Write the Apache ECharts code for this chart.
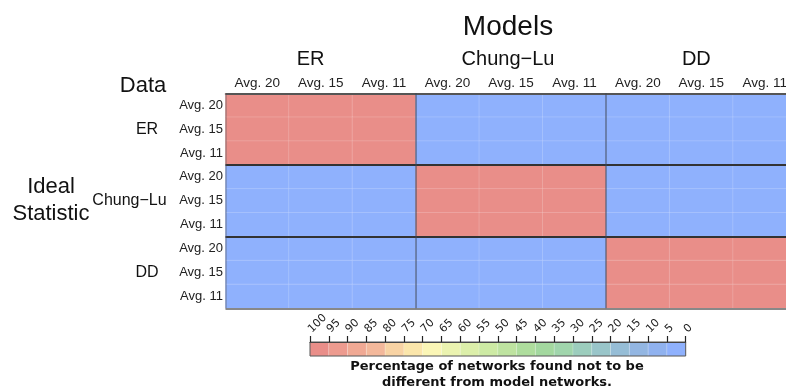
<!DOCTYPE html>
<html>
<head>
<meta charset="utf-8">
<script src="https://cdn.jsdelivr.net/npm/echarts@6/dist/echarts.min.js"></script>
<style>
  html, body { margin: 0; padding: 0; background: #ffffff; }
  #chart { width: 786px; height: 390px; }
</style>
</head>
<body>
<div id="chart"></div>
<script>
// Model families (columns) and the data sets the ideal statistic came from (rows)
const modelGroups = ['ER', 'Chung−Lu', 'DD'];
const dataGroups = ['ER', 'Chung−Lu', 'DD'];
const avgLevels = ['Avg. 20', 'Avg. 15', 'Avg. 11'];

// Percentage of networks found not to be different from model networks
// rows: data group × average degree, columns: model group × average degree
const pctRows = [
  [100, 100, 100, 0, 0, 0, 0, 0, 0],
  [100, 100, 100, 0, 0, 0, 0, 0, 0],
  [100, 100, 100, 0, 0, 0, 0, 0, 0],
  [0, 0, 0, 100, 100, 100, 0, 0, 0],
  [0, 0, 0, 100, 100, 100, 0, 0, 0],
  [0, 0, 0, 100, 100, 100, 0, 0, 0],
  [0, 0, 0, 0, 0, 0, 100, 100, 100],
  [0, 0, 0, 0, 0, 0, 100, 100, 100],
  [0, 0, 0, 0, 0, 0, 100, 100, 100]
];

// Colour scale: one colour per 5% band, from 100 down to 0
const scaleTicks = [100, 95, 90, 85, 80, 75, 70, 65, 60, 55, 50, 45, 40, 35, 30, 25, 20, 15, 10, 5, 0];
const scaleColors = [
  '#e98e89', '#ed9b8f', '#f0a994', '#f3b89b', '#f8d3a4',
  '#fbe6ab', '#fbf6b6', '#ebf3b0', '#dcefaa', '#cdeaa4',
  '#bee3a0', '#aedd9d', '#a3d89f', '#a0d5ac', '#9ccdbd',
  '#99c5c9', '#96bdd6', '#93b6e2', '#90b2ef', '#8fb1fd'
];

const SANS = '"Liberation Sans", Arial, Helvetica, sans-serif';
const DEJAVU = '"DejaVu Sans", sans-serif';

// Category keys for the 9 columns / 9 rows
const colKeys = [];
modelGroups.forEach(m => avgLevels.forEach(a => colKeys.push(m + '|' + a)));
const rowKeys = [];
dataGroups.forEach(d => avgLevels.forEach(a => rowKeys.push(d + '|' + a)));

const cells = [];
pctRows.forEach((row, r) => row.forEach((v, c) => cells.push([c, r, v])));

// Bands for the colour scale, [low, high, colourIndex]
const bands = scaleColors.map((col, i) => [scaleTicks[i + 1], scaleTicks[i], i]);
const pieces = bands.map(([lo, hi, i]) =>
  i === 0 ? { gte: lo, lte: hi, color: scaleColors[i] } : { gte: lo, lt: hi, color: scaleColors[i] });

const chart = echarts.init(document.getElementById('chart'), null, { renderer: 'canvas' });

const option = {
  animation: false,
  backgroundColor: '#ffffff',
  grid: [
    { left: 225.5, top: 93.3, width: 571, height: 215, containLabel: false, outerBoundsMode: 'none' },
    { left: 310, top: 342, width: 375.7, height: 14, show: true, z: 5, containLabel: false, outerBoundsMode: 'none',
      borderColor: '#555555', borderWidth: 1, backgroundColor: 'transparent' }
  ],
  visualMap: {
    type: 'piecewise', show: false, seriesIndex: 0, dimension: 2, pieces: pieces
  },
  xAxis: [
    {
      type: 'category', gridIndex: 0, position: 'top', data: colKeys,
      axisLine: { show: true, lineStyle: { color: '#555555', width: 1.5 } },
      axisTick: { show: false },
      axisLabel: { interval: 0, formatter: v => v.split('|')[1], fontFamily: SANS, fontSize: 13.5, color: '#222', margin: 3 },
      splitLine: { show: false }
    },
    {
      type: 'category', gridIndex: 0, position: 'top', z: 6,
      data: [
        { value: 'ER', textStyle: { padding: [0, 20, 0, 0] } },
        { value: 'Chung−Lu', textStyle: { padding: [0, 6, 0, 0] } },
        { value: 'DD', textStyle: { padding: [0, 10, 0, 0] } }
      ],
      axisLine: { show: false }, axisTick: { show: false },
      axisLabel: { interval: 0, fontFamily: SANS, fontSize: 20, color: '#111', margin: 24 },
      splitLine: { show: true, interval: 0, lineStyle: { color: ['rgba(80,80,90,0.35)', 'rgba(60,70,90,0.55)', 'rgba(60,70,90,0.55)', 'rgba(0,0,0,0)'], width: 1.8 } }
    },
    {
      type: 'value', gridIndex: 1, position: 'top', min: 0, max: 100, interval: 5, inverse: true, z: 6,
      axisLine: { show: true, lineStyle: { color: '#444', width: 1 } },
      axisTick: { show: true, length: 6, lineStyle: { color: '#222', width: 1.2 } },
      axisLabel: { rotate: -45, align: 'left', verticalAlign: 'middle', fontFamily: DEJAVU, fontSize: 11, color: '#222', margin: 11 },
      splitLine: { show: false }
    }
  ],
  yAxis: [
    {
      type: 'category', gridIndex: 0, position: 'left', inverse: true, data: rowKeys,
      axisLine: { show: false }, axisTick: { show: false },
      axisLabel: { interval: 0, formatter: v => v.split('|')[1], fontFamily: SANS, fontSize: 13, color: '#222', margin: 2.5 },
      splitLine: { show: false }
    },
    {
      type: 'category', gridIndex: 0, position: 'left', inverse: true, z: 6,
      data: [
        { value: 'ER' },
        { value: 'Chung−Lu', textStyle: { align: 'center', padding: [0, 35, 4, 0] } },
        { value: 'DD' }
      ],
      axisLine: { show: false }, axisTick: { show: false },
      axisLabel: { interval: 0, fontFamily: SANS, fontSize: 16, color: '#111', align: 'center', margin: 78.5, padding: [0, 0, 6, 0] },
      splitLine: { show: true, interval: 0, lineStyle: { color: ['#555555', '#333333', '#333333', '#888888'], width: 1.8 } }
    },
    {
      type: 'category', gridIndex: 1, data: [''],
      axisLine: { show: false }, axisTick: { show: false }, axisLabel: { show: false }
    }
  ],
  graphic: [
    { type: 'text', x: 508, y: 27, style: { text: 'Models', font: '28px ' + SANS, fill: '#111', textAlign: 'center', textVerticalAlign: 'middle' } },
    { type: 'text', x: 143, y: 86, style: { text: 'Data', font: '22px ' + SANS, fill: '#111', textAlign: 'center', textVerticalAlign: 'middle' } },
    { type: 'text', x: 51, y: 200, style: { text: 'Ideal\nStatistic', font: '22px ' + SANS, lineHeight: 27, fill: '#111', textAlign: 'center', textVerticalAlign: 'middle' } },
    { type: 'text', x: 497, y: 375, style: { text: 'Percentage of networks found not to be\ndifferent from model networks.', font: 'bold 13px ' + DEJAVU, lineHeight: 16, fill: '#111', textAlign: 'center', textVerticalAlign: 'middle' } }
  ],
  series: [
    {
      type: 'heatmap', xAxisIndex: 0, yAxisIndex: 0, data: cells,
      itemStyle: { borderColor: 'rgba(255,255,255,0.28)', borderWidth: 0.6 },
      emphasis: { disabled: true }
    },
    {
      type: 'custom', xAxisIndex: 2, yAxisIndex: 2, data: bands,
      renderItem: function (params, api) {
        const lo = api.value(0), hi = api.value(1), idx = api.value(2);
        const a = api.coord([hi, 0]);
        const b = api.coord([lo, 0]);
        const h = api.size([0, 1])[1];
        const x = Math.min(a[0], b[0]);
        return {
          type: 'rect',
          shape: { x: x, y: a[1] - h / 2, width: Math.abs(b[0] - a[0]), height: h },
          style: { fill: scaleColors[idx], stroke: 'rgba(255,255,255,0.35)', lineWidth: 0.5 }
        };
      }
    }
  ]
};

chart.setOption(option);
</script>
</body>
</html>
